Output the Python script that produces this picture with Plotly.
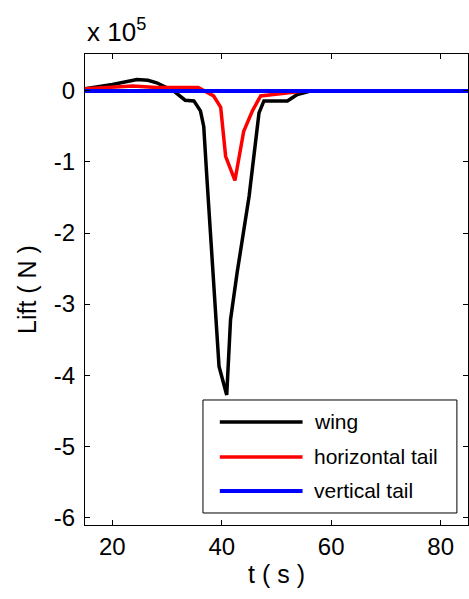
import plotly.graph_objects as go

# time (s)
t_wing = [15, 20, 24.5, 26.5, 28.1, 31.2, 33.3, 34.9, 36.1, 36.7, 37.3, 38.5, 39.5, 40.9, 41.6, 42.8, 45.0, 46.8, 47.7, 52.0, 53.8, 56.2, 60, 85]
# lift (x 1e5 N)
lift_wing = [0.03, 0.09, 0.16, 0.15, 0.115, 0.0, -0.13, -0.14, -0.28, -0.5, -1.25, -2.66, -3.88, -4.28, -3.22, -2.56, -1.48, -0.31, -0.14, -0.14, -0.05, 0.0, 0.0, 0.0]

t_htail = [15, 20, 23.8, 28, 35.7, 38.5, 39.8, 40.7, 42.4, 44.0, 45.6, 47.1, 52.5, 55, 85]
lift_htail = [0.03, 0.05, 0.07, 0.05, 0.05, -0.07, -0.23, -0.92, -1.26, -0.57, -0.28, -0.07, -0.02, 0.0, 0.0]

t_vtail = [15, 85]
lift_vtail = [0.0, 0.0]

series_names = ["wing", "horizontal tail", "vertical tail"]
series_colors = ["black", "#ff0000", "#0000ff"]
series_widths = [3.5, 3.5, 4]

xticks = [20, 40, 60, 80]
yticks = [0, -1, -2, -3, -4, -5, -6]

font = "Liberation Sans, Arial, sans-serif"

fig = go.Figure()
for tx, ly, nm, col, w in zip([t_wing, t_htail, t_vtail], [lift_wing, lift_htail, lift_vtail],
                              series_names, series_colors, series_widths):
    fig.add_trace(go.Scatter(x=tx, y=ly, mode="lines", name=nm,
                             line=dict(color=col, width=w), showlegend=False))

axis_common = dict(showgrid=False, zeroline=False, showline=True, linecolor="black",
                   linewidth=1, mirror="allticks", ticks="inside", ticklen=5,
                   tickcolor="black", tickfont=dict(size=24, color="black", family=font))

fig.update_layout(
    width=469, height=599,
    margin=dict(l=85, r=1, t=54, b=74),
    paper_bgcolor="white", plot_bgcolor="white",
    font=dict(family=font, color="black"),
    xaxis=dict(range=[15, 85], tickvals=xticks, ticktext=[str(v) for v in xticks],
               title=dict(text="t ( s )", font=dict(size=25), standoff=6), **axis_common),
    yaxis=dict(range=[-6.11, 0.52], tickvals=yticks, ticktext=[str(v) for v in yticks],
               ticklabelstandoff=4,
               title=dict(text="Lift ( N )", font=dict(size=25), standoff=10), **axis_common),
    showlegend=False,
)
fig.add_annotation(text="x 10<sup>5</sup>", xref="paper", yref="paper", x=0, y=1,
                   xanchor="left", yanchor="bottom", showarrow=False, yshift=5,
                   font=dict(size=26, color="black", family=font))

# custom legend (MATLAB style, long line samples)
box_x0, box_x1, box_y0, box_y1 = 0.308, 0.971, 0.0255, 0.2654
fig.add_shape(type="rect", xref="paper", yref="paper", x0=box_x0, x1=box_x1, y0=box_y0, y1=box_y1,
              line=dict(color="black", width=1), fillcolor="white", layer="above")
row_y = [0.2187, 0.1444, 0.0722]
for ry, nm, col, w in zip(row_y, series_names, series_colors, series_widths):
    fig.add_shape(type="line", xref="paper", yref="paper", x0=0.352, x1=0.568, y0=ry, y1=ry,
                  line=dict(color=col, width=w), layer="above")
    fig.add_annotation(text=nm, xref="paper", yref="paper", x=0.593, y=ry, xanchor="left",
                       yanchor="middle", showarrow=False,
                       font=dict(size=21, color="black", family=font))

fig.write_html("out.html")
